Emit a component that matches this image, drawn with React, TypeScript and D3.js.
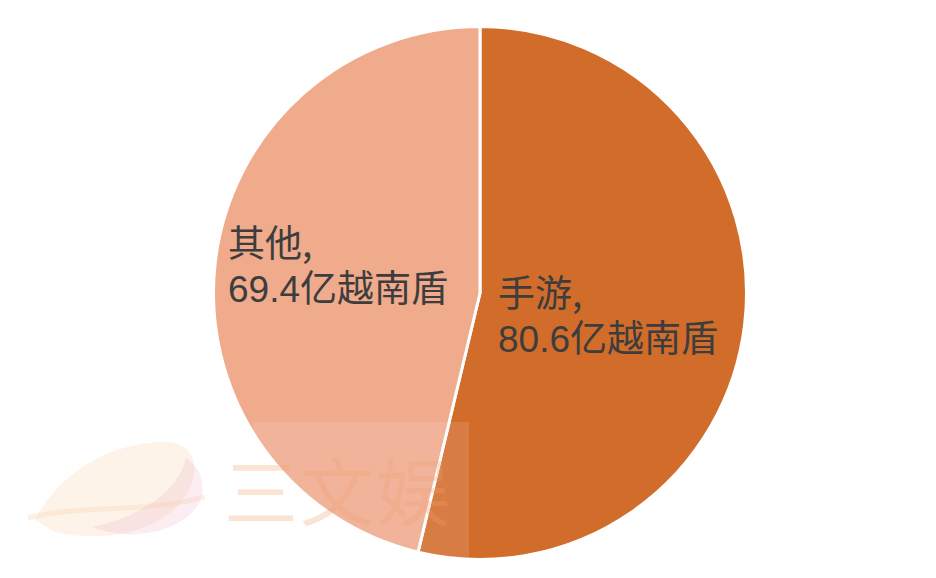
import React from "react";
import * as d3 from "d3";

const categories = ["手游", "其他"];
const values = [80.6, 69.4];
const unit = "亿越南盾";
const colors = ["#D26C2A", "#F0AA8C"];

const W = 936;
const H = 578;
const CX = 480;
const CY = 293;
const R = 266.5;

export default function App() {
  const pie = d3
    .pie<number>()
    .sort(null)
    .startAngle(0)
    .endAngle(2 * Math.PI)
    .value((d) => d);
  const arcs = pie(values);
  const arcGen = d3.arc<d3.PieArcDatum<number>>().innerRadius(0).outerRadius(R);

  // label anchor offsets (start-anchored, two lines each)
  const labelPos = [
    { x: CX + 18, y: CY + 14 },
    { x: CX - 252, y: CY - 36 },
  ];
  const lineGap = 45;
  const fontDigits = "'Liberation Sans', Arial, sans-serif";
  const fontCJK = "'Noto Sans CJK SC', sans-serif";

  return (
    <svg
      width={W}
      height={H}
      style={{ position: "absolute", left: 0, top: 0, background: "#fff" }}
    >
      <g transform={`translate(${CX},${CY})`}>
        {arcs.map((a, i) => (
          <path
            key={categories[i]}
            d={arcGen(a) || ""}
            fill={colors[i]}
            stroke="#fff"
            strokeWidth={3}
            strokeLinejoin="round"
          />
        ))}
      </g>

      {/* watermark */}
      <g>
        <rect x={253} y={422} width={216} height={140} fill="#fff" opacity={0.12} />
        <path
          d="M35,520 C60,470 115,440 170,442 C195,445 200,470 188,492 C168,528 110,545 55,532 Z"
          fill="#F6C89A"
          opacity={0.22}
        />
        <path
          d="M92,527 C140,517 178,492 186,458 C203,468 208,492 196,508 C176,533 130,542 92,527 Z"
          fill="#EBA6C0"
          opacity={0.2}
        />
        <path
          d="M28,518 C80,504 140,514 205,497"
          stroke="#F6C89A"
          strokeWidth={5}
          fill="none"
          opacity={0.25}
        />
        <text
          x={224}
          y={520}
          fontSize={74}
          fontFamily={fontCJK}
          fill="#F3A070"
          opacity={0.28}
          letterSpacing={2}
        >
          三文娱
        </text>
      </g>

      {arcs.map((a, i) => (
        <g key={"lbl" + categories[i]} fill="#3d3d3d" fontSize={37}>
          <text x={labelPos[i].x} y={labelPos[i].y} fontFamily={fontCJK}>
            {categories[i]},
          </text>
          <text x={labelPos[i].x} y={labelPos[i].y + lineGap}>
            <tspan fontFamily={fontDigits}>{values[i].toFixed(1)}</tspan>
            <tspan fontFamily={fontCJK}>{unit}</tspan>
          </text>
        </g>
      ))}
    </svg>
  );
}
